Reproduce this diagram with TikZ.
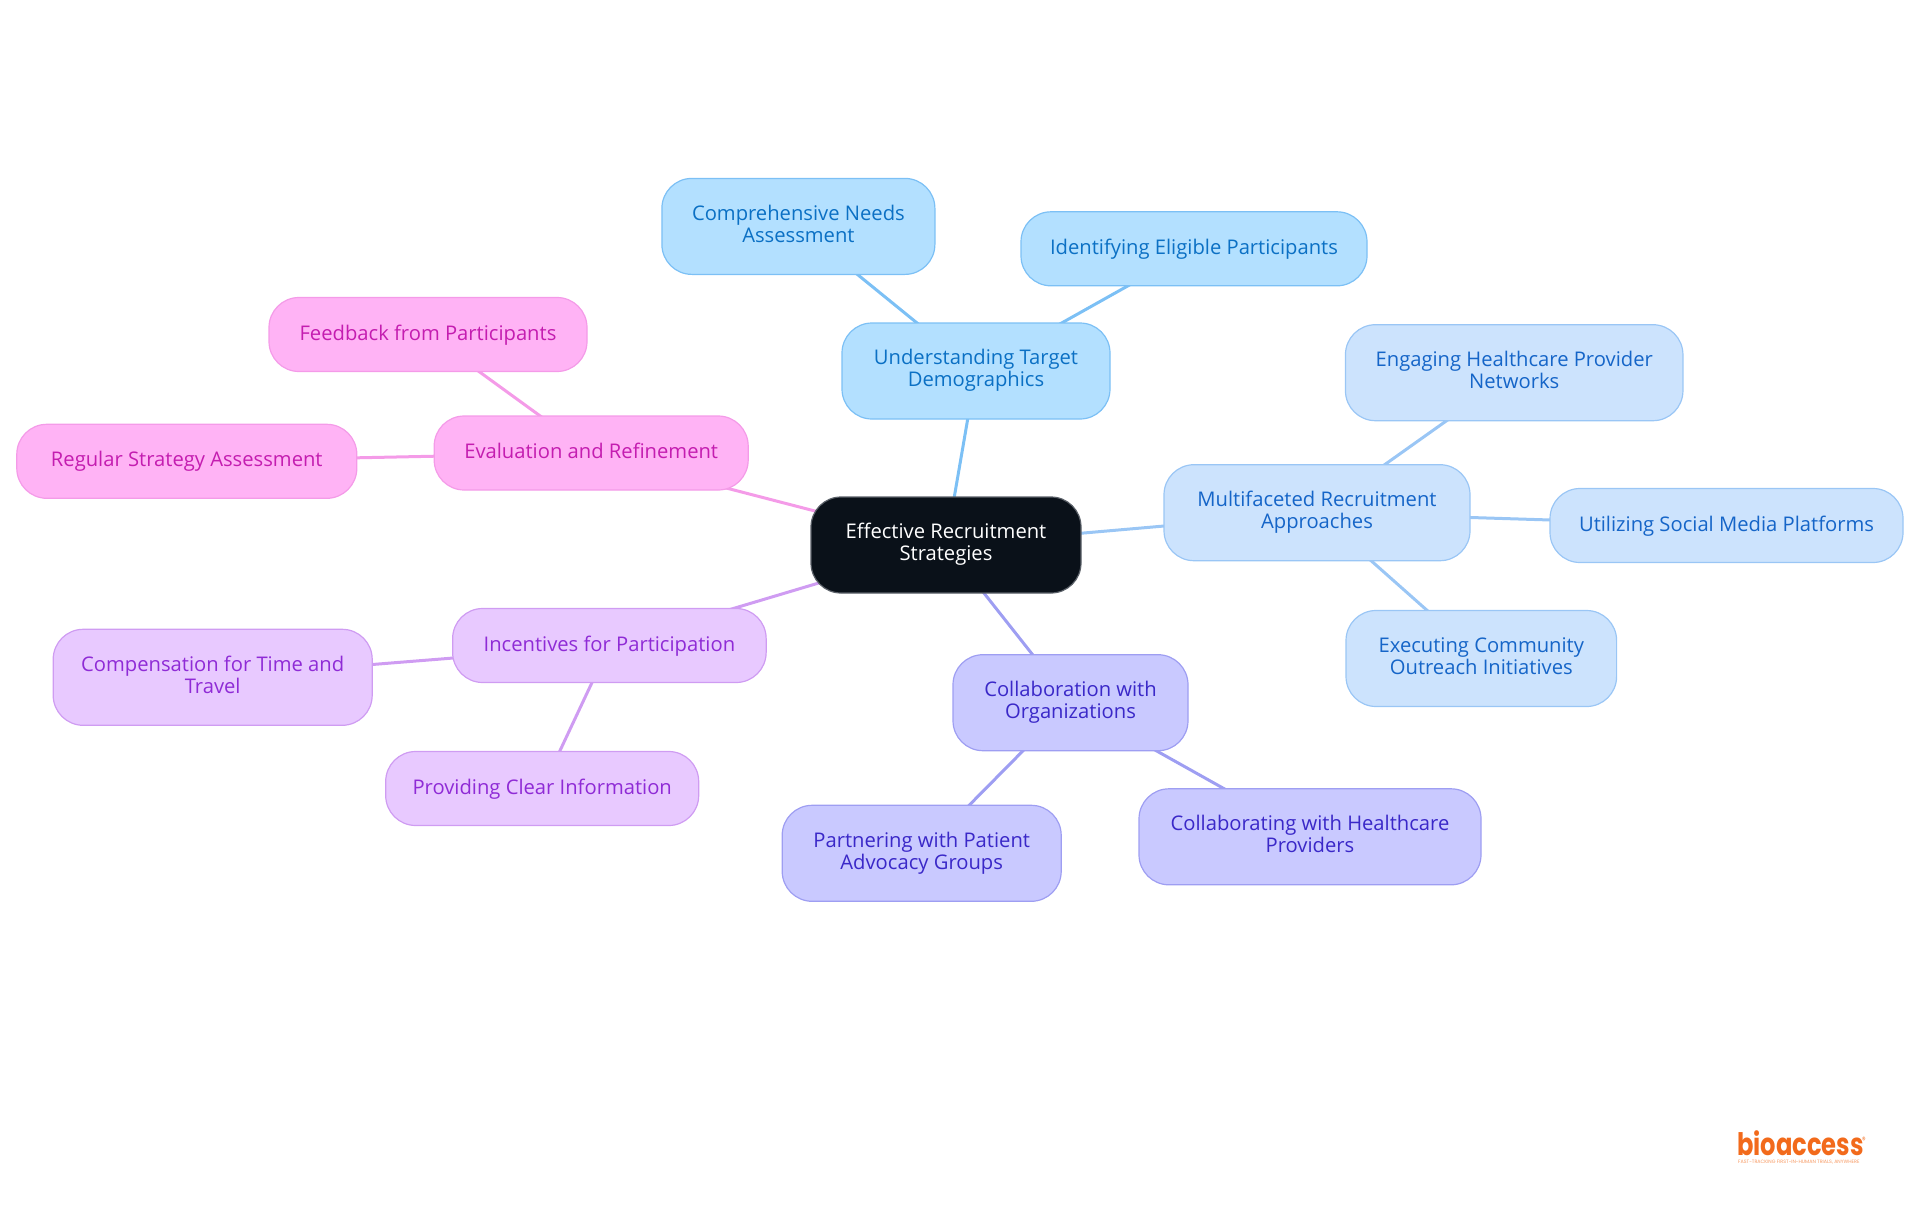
\documentclass[tikz,border=0pt]{standalone}
\usepackage{fontspec}
\setmainfont{Open Sans}
\newfontfamily\logofont[FakeStretch=0.78]{Poppins}
\usetikzlibrary{backgrounds}
\definecolor{rootfill}{HTML}{0A1119}
\definecolor{rootline}{HTML}{5A6068}
\definecolor{understandfill}{HTML}{B3E0FF}
\definecolor{understandline}{HTML}{7CC0F5}
\definecolor{understandtext}{HTML}{0B70C4}
\definecolor{approachfill}{HTML}{CCE3FD}
\definecolor{approachline}{HTML}{9AC6F5}
\definecolor{approachtext}{HTML}{1565C8}
\definecolor{collabfill}{HTML}{C9C9FF}
\definecolor{collabline}{HTML}{9E9EF2}
\definecolor{collabtext}{HTML}{3A28C8}
\definecolor{incentfill}{HTML}{E8C9FF}
\definecolor{incentline}{HTML}{CF9CF2}
\definecolor{incenttext}{HTML}{8F2BD6}
\definecolor{evalfill}{HTML}{FFB3F5}
\definecolor{evalline}{HTML}{F49BE8}
\definecolor{evaltext}{HTML}{C41DB0}
\definecolor{logoorange}{HTML}{F26A1B}
\def\boxstrut{\rule[-5.5pt]{0pt}{22pt}}
\tikzset{
	box/.style={draw, rounded corners=30pt, line width=1.2pt, inner sep=0pt, align=center, font=\fontsize{20.2}{22}\selectfont, execute at begin node=\boxstrut, execute at end node=\boxstrut},
	oneline/.style={minimum height=74pt},
	twoline/.style={minimum height=96pt},
	understand/.style={box, fill=understandfill, draw=understandline, text=understandtext},
	approach/.style={box, fill=approachfill, draw=approachline, text=approachtext},
	collab/.style={box, fill=collabfill, draw=collabline, text=collabtext},
	incent/.style={box, fill=incentfill, draw=incentline, text=incenttext},
	evalbox/.style={box, fill=evalfill, draw=evalline, text=evaltext},
	link/.style={line width=3pt},
	logotext/.style={anchor=base west, inner sep=0pt, text=logoorange}
}
\begin{document}
\begin{tikzpicture}[x=1pt, y=-1pt]
	%%%%% START %%%%%
	\useasboundingbox (0, 0) rectangle (1920, 1215);

	\node[box, twoline, fill=rootfill, draw=rootline, text=white, minimum width=270pt] (root) at (946, 545) {Effective Recruitment\\Strategies};

	\node[understand, twoline, minimum width=268pt] (target) at (976, 371) {Understanding Target\\Demographics};
	\node[understand, twoline, minimum width=273pt] (needs) at (798.4, 226.4) {Comprehensive Needs\\Assessment};
	\node[understand, oneline, minimum width=346pt] (eligible) at (1194, 248.8) {Identifying Eligible Participants};

	\node[approach, twoline, minimum width=306pt] (multi) at (1317, 512.7) {Multifaceted Recruitment\\Approaches};
	\node[approach, twoline, minimum width=337.5pt] (network) at (1514.2, 372.7) {Engaging Healthcare Provider\\Networks};
	\node[approach, oneline, minimum width=353pt] (social) at (1726.5, 525.5) {Utilizing Social Media Platforms};
	\node[approach, twoline, minimum width=270.6pt] (outreach) at (1481.3, 658.5) {Executing Community\\Outreach Initiatives};

	\node[collab, twoline, minimum width=235pt] (orgs) at (1070.5, 702.7) {Collaboration with\\Organizations};
	\node[collab, twoline, minimum width=279pt] (advocacy) at (921.7, 853.3) {Partnering with Patient\\Advocacy Groups};
	\node[collab, twoline, minimum width=342pt] (providers) at (1310, 836.8) {Collaborating with Healthcare\\Providers};

	\node[incent, oneline, minimum width=313.5pt] (incentives) at (609.4, 645.5) {Incentives for Participation};
	\node[incent, twoline, minimum width=319pt] (travel) at (212.7, 677.3) {Compensation for Time and\\Travel};
	\node[incent, oneline, minimum width=313pt] (clear) at (542.2, 788.5) {Providing Clear Information};

	\node[evalbox, oneline, minimum width=314pt] (refine) at (591.2, 453) {Evaluation and Refinement};
	\node[evalbox, oneline, minimum width=318pt] (feedback) at (428, 334.5) {Feedback from Participants};
	\node[evalbox, oneline, minimum width=340pt] (regular) at (186.8, 461.3) {Regular Strategy Assessment};

	\begin{scope}[on background layer]
		\draw[link, understandline] (root.center) -- (target.center);
		\draw[link, understandline] (target.center) -- (needs.center);
		\draw[link, understandline] (target.center) -- (eligible.center);

		\draw[link, approachline] (root.center) -- (multi.center);
		\draw[link, approachline] (multi.center) -- (network.center);
		\draw[link, approachline] (multi.center) -- (social.center);
		\draw[link, approachline] (multi.center) -- (outreach.center);

		\draw[link, collabline] (root.center) -- (orgs.center);
		\draw[link, collabline] (orgs.center) -- (advocacy.center);
		\draw[link, collabline] (orgs.center) -- (providers.center);

		\draw[link, incentline] (root.center) -- (incentives.center);
		\draw[link, incentline] (incentives.center) -- (travel.center);
		\draw[link, incentline] (incentives.center) -- (clear.center);

		\draw[link, evalline] (root.center) -- (refine.center);
		\draw[link, evalline] (refine.center) -- (feedback.center);
		\draw[link, evalline] (refine.center) -- (regular.center);
	\end{scope}

	\node[logotext, font=\logofont\bfseries\fontsize{31}{31}\selectfont] (logo) at (1737, 1155) {bioaccess};
	\node[logotext, font=\logofont\fontsize{9}{9}\selectfont] (mark) at (1862, 1143) {®};
	\node[logotext, text=logoorange!70, font=\fontspec{Poppins}\fontsize{4.8}{5}\selectfont] (tagline) at (1738, 1163) {FAST-TRACKING FIRST-IN-HUMAN TRIALS, ANYWHERE};
	%%%%% END %%%%%
\end{tikzpicture}
\end{document}
